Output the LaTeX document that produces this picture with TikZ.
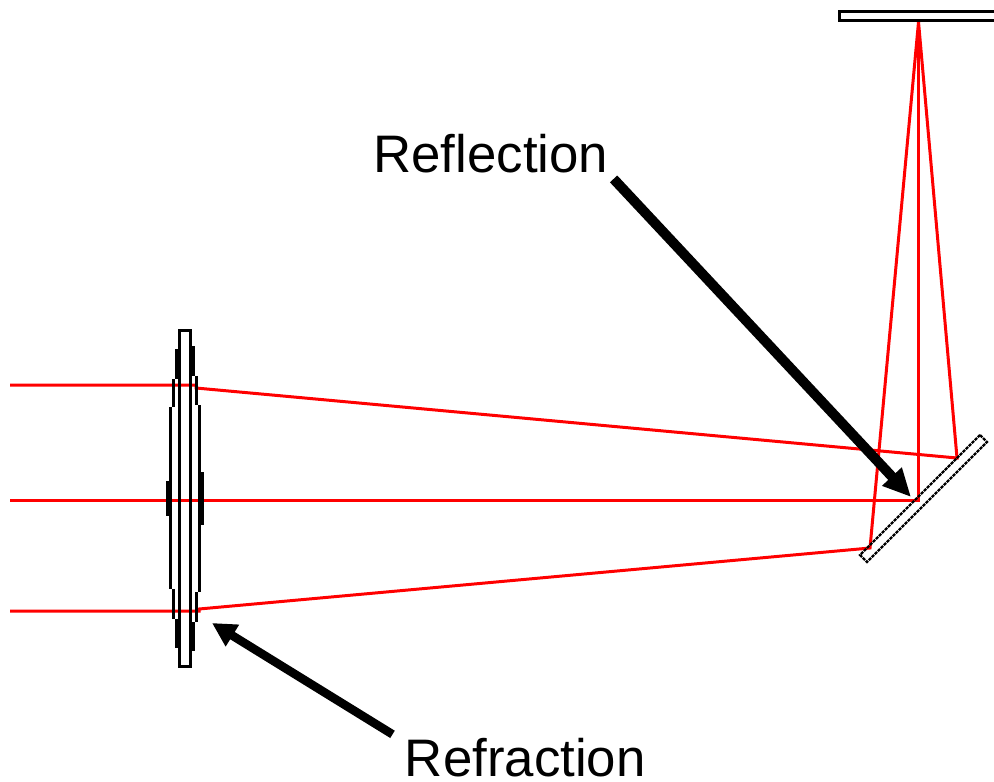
\documentclass[tikz,border=0pt]{standalone}
\usepackage{fontspec}
\setmainfont{Liberation Sans}
\usetikzlibrary{arrows.meta, positioning, calc}

\begin{document}
\begin{tikzpicture}[
  x=0.5pt, y=-0.5pt,
  ray/.style={draw=red, line width=1.5pt},
  glass/.style={draw=black, line width=1.5pt},
  mirror/.style={draw=black, line width=1.2pt, dash pattern=on 1.6pt off 0.52pt},
  arbig/.style={-{Triangle[length=14pt, width=12.5pt]}, line width=5pt},
  arsmall/.style={-{Triangle[length=12pt, width=12pt]}, line width=4.3pt},
  lbl/.style={font=\fontsize{26.4}{30}\selectfont, inner sep=0pt, anchor=base west},
]
\useasboundingbox (0,0) rectangle (994,781);

% rays in front of the lens and after it
\coordinate (inT) at (10,385);
\coordinate (inM) at (10,500);
\coordinate (inB) at (10,611);
\coordinate (lensT) at (196,388);
\coordinate (lensB) at (199,609);
\coordinate (hitT) at (957,458);
\coordinate (hitM) at (918.5,500);
\coordinate (hitB) at (870,548);
\coordinate (focus) at (918.5,22);

\draw[ray] (inT) -- (lensT |- inT) -- (lensT) -- (hitT) -- (focus);
\draw[ray] (inM) -- (hitM) -- (focus);
\draw[ray] (inB) -- (lensB |- inB) -- (lensB) -- (hitB) -- (focus);

% lens, stepped outline
\draw[glass] (179.5,330.5) rectangle (190.5,666);
\foreach \xa/\ya/\yb in {176.5/349/379, 173.5/379/407, 170.5/407/589, 167.5/481/516,
    173.5/589/619, 176.5/619/648, 193.5/346/376, 196.5/376/405, 199.5/405/592,
    202.5/472/525, 196.5/592/622, 193.5/622/651}
  \draw[glass] (\xa,\ya) -- (\xa,\yb);

% mirror and detector
\draw[mirror] (980,435) -- (987,442) -- (867,562) -- (860,555) -- cycle;
\draw[glass] (994,11.5) -- (839.5,11.5) -- (839.5,20.5) -- (994,20.5);

\node[lbl] (reflection) at (373,172) {Reflection};
\node[lbl] (refraction) at (404.5,776) {Refraction};

\coordinate (reflTip) at (911,497);
\coordinate (refrTip) at (212,623);
\draw[arbig] (reflection.south east) ++(5,6) -- (reflTip);
\draw[arsmall] (refraction.north west) ++(-12,-3) -- (refrTip);
\end{tikzpicture}
\end{document}
